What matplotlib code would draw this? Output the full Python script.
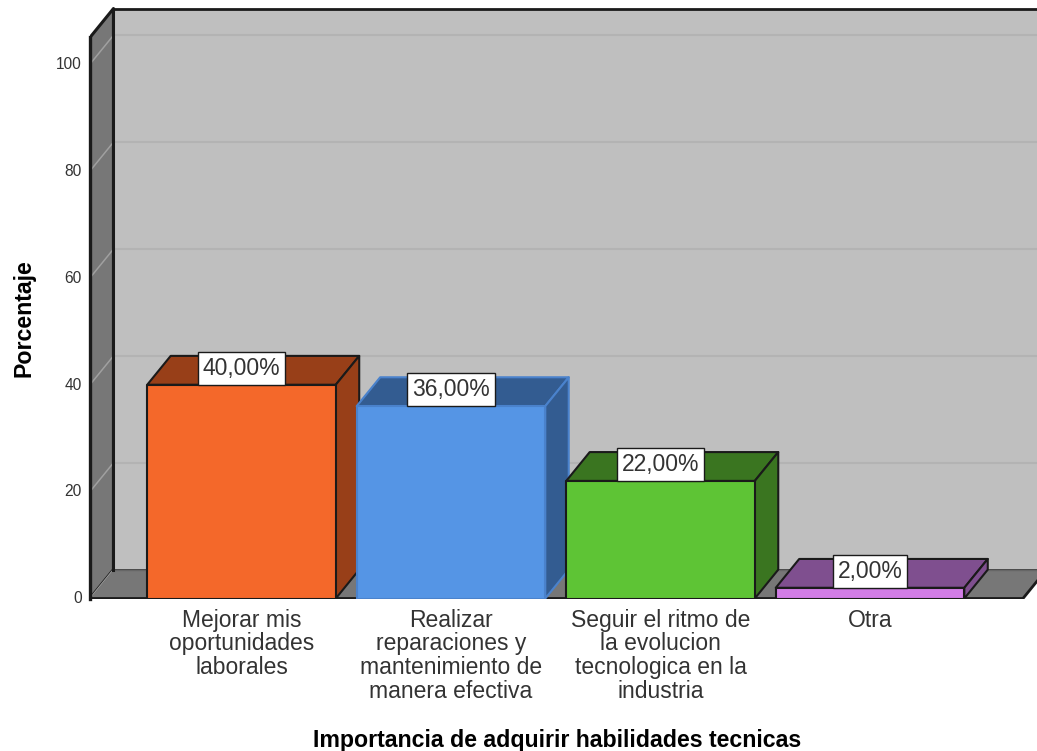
import matplotlib.pyplot as plt
from matplotlib.patches import Polygon

plt.rcParams['font.family'] = ['Liberation Sans', 'DejaVu Sans']

# Data
categories = ['Mejorar mis\noportunidades\nlaborales',
              'Realizar\nreparaciones y\nmantenimiento de\nmanera efectiva',
              'Seguir el ritmo de\nla evolucion\ntecnologica en la\nindustria',
              'Otra']
values = [40, 36, 22, 2]
value_labels = ['40,00%', '36,00%', '22,00%', '2,00%']
y_ticks = [0, 20, 40, 60, 80, 100]

front_colors = ['#f4682a', '#5595e5', '#5ec435', '#d27de6']
side_colors = ['#983f18', '#335c91', '#3a7520', '#7f4f8f']
edge_colors = ['#1a1a1a', '#4a82cc', '#1a1a1a', '#1a1a1a']

# 3D look
dx = 0.112
dy = 5.4
bar_w = 0.9
x_left = -0.723
x_right = 3.73
y_top = 105

fig = plt.figure(figsize=(10.37, 7.51), dpi=100)
ax = fig.add_axes([90 / 1037, 152.5 / 751, 947 / 1037, 598.5 / 751])
ax.set_xlim(x_left, 3.797)
ax.set_ylim(0, 112)
ax.axis('off')


def poly(pts, fc, ec='#1a1a1a', lw=1.5, z=1):
    ax.add_patch(Polygon(pts, closed=True, facecolor=fc, edgecolor=ec, linewidth=lw,
                         zorder=z, clip_on=True, joinstyle='round'))


# Walls and floor
poly([(x_left + dx, dy), (x_right + 1, dy), (x_right + 1, y_top + dy), (x_left + dx, y_top + dy)],
     '#bfbfbf', lw=2)
poly([(x_left, 0), (x_left + dx, dy), (x_left + dx, y_top + dy), (x_left, y_top)], '#777777', lw=2.2)
poly([(x_left, 0), (x_right, 0), (x_right + dx, dy), (x_right + 1, dy), (x_left + dx, dy)],
     '#777777', lw=0, z=1.1)
ax.plot([x_left, x_right, x_right + dx], [0, 0, dy], color='#1a1a1a', lw=2, zorder=1.2)
ax.plot([x_left + dx, x_right + 1], [dy, dy], color='#666666', lw=1, zorder=1.2)
ax.plot([x_left + dx, x_left + dx], [dy, y_top + dy], color='#1a1a1a', lw=2.2, zorder=1.3)
ax.plot([x_left, x_left], [0, y_top], color='#1a1a1a', lw=2.4, zorder=1.3, clip_on=False)

# Gridlines
for t in y_ticks:
    if t > 0:
        ax.plot([x_left + dx, x_right + 1], [t + dy, t + dy], color='#b3b3b3', lw=1.5, zorder=1.05)
    ax.plot([x_left, x_left + dx], [t, t + dy], color='#a0a0a0', lw=1.1, zorder=1.05)
    ax.annotate(str(t), (x_left, t), xytext=(-6, -0.2), textcoords='offset points', ha='right', va='center',
                fontsize=11.2, color='#333333', annotation_clip=False)

# Bars
for i, v in enumerate(values):
    l = i - bar_w / 2
    r = i + bar_w / 2
    z = 2 + i
    ec = edge_colors[i]
    poly([(l, v), (r, v), (r + dx, v + dy), (l + dx, v + dy)], side_colors[i], ec=ec, z=z)
    poly([(r, 0), (r + dx, dy), (r + dx, v + dy), (r, v)], side_colors[i], ec=ec, z=z)
    poly([(l, 0), (r, 0), (r, v), (l, v)], front_colors[i], ec=ec, z=z + 0.1)

# Value labels
for i, v in enumerate(values):
    ax.annotate(value_labels[i], (i, v), xytext=(0, 3.6), textcoords='offset points',
                ha='center', va='bottom', fontsize=16.5, color='#333333', zorder=10,
                bbox=dict(boxstyle='square,pad=0.22', facecolor='white', edgecolor='#1a1a1a', linewidth=1))

# Category labels
for i, c in enumerate(categories):
    ax.annotate(c, (i, 0), xytext=(0, -7.5), textcoords='offset points', ha='center', va='top',
                fontsize=16.5, linespacing=1.03, color='#333333', annotation_clip=False)

fig.text(557 / 1037, 1 - 740.5 / 751, 'Importancia de adquirir habilidades tecnicas',
         ha='center', va='center', fontsize=16.7, fontweight='bold', color='black')
fig.text(24 / 1037, 1 - 318 / 751, 'Porcentaje', rotation=90, ha='center', va='center',
         fontsize=16.7, fontweight='bold', color='black')

plt.savefig('out.png', dpi=100)
